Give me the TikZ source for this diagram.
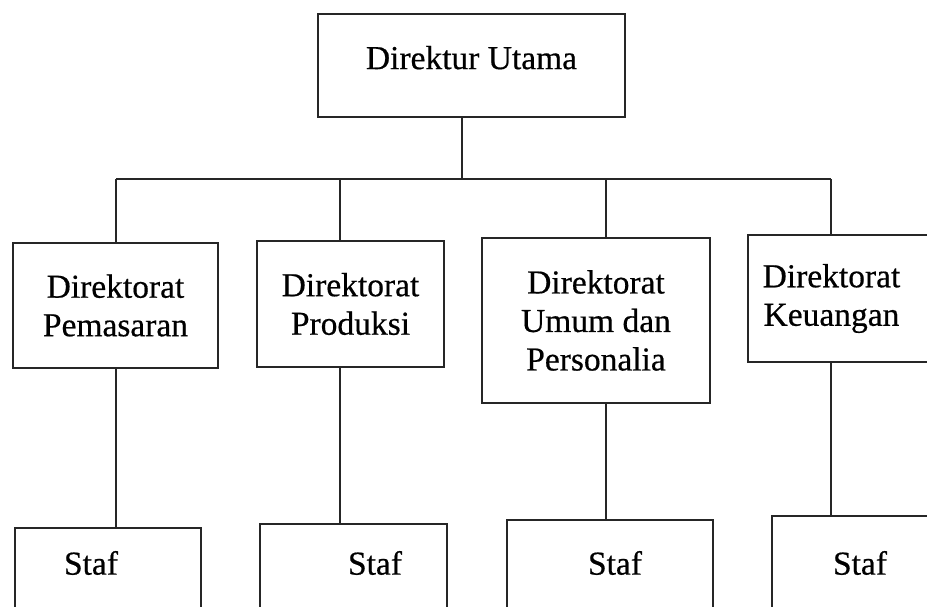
\documentclass[tikz,border=0pt]{standalone}
\usepackage{fontspec}
\setmainfont{Liberation Serif}[FakeBold=0.5]
\begin{document}
\begin{tikzpicture}[x=1pt,y=-1pt,
  box/.style={draw=black!85, line width=1.9pt, rectangle, inner sep=0pt, align=center,
    font=\fontsize{33.5}{38.5}\selectfont},
  txt/.style={inner sep=0pt, font=\fontsize{33.5}{38.5}\selectfont},
  conn/.style={draw=black!85, line width=1.9pt}]
\useasboundingbox (0,0) rectangle (927,607);
\clip (0,0) rectangle (927,607);
% top
\node[box, minimum width=307pt, minimum height=103pt, text depth=16pt] (top) at (471.5,65.5) {Direktur Utama};
% directorates
\node[box, minimum width=205pt, minimum height=125pt] (d1) at (115.5,305.5) {Direktorat\\Pemasaran};
\node[box, minimum width=187pt, minimum height=126pt] (d2) at (350.5,304) {Direktorat\\Produksi};
\node[box, minimum width=228pt, minimum height=165pt] (d3) at (596,320.5) {Direktorat\\Umum dan\\Personalia};
\node[box, minimum width=187pt, minimum height=127pt] (d4) at (841.5,298.5) {\hspace*{-20pt}Direktorat\\\hspace*{-20pt}Keuangan};
% staff boxes
\node[box, minimum width=186pt, minimum height=92pt] (s1box) at (108,574) {};
\node[box, minimum width=187pt, minimum height=96pt] (s2box) at (353.5,572) {};
\node[box, minimum width=206pt, minimum height=100pt] (s3box) at (610,570) {};
\node[box, minimum width=168pt, minimum height=104pt] (s4box) at (856,568) {};
\node[txt] (s1) at (91,563) {Staf};
\node[txt] (s2) at (375,563) {Staf};
\node[txt] (s3) at (615,563) {Staf};
\node[txt] (s4) at (860,563) {Staf};
% bus
\coordinate (t) at (462,179);
\coordinate (c1) at (116,179);
\coordinate (c2) at (340,179);
\coordinate (c3) at (606,179);
\coordinate (c4) at (831,179);
\draw[conn] (top.south -| t) -- (t);
\draw[conn] (c1) -- (c4);
\draw[conn] (c1) -- (c1 |- d1.north);
\draw[conn] (c2) -- (c2 |- d2.north);
\draw[conn] (c3) -- (c3 |- d3.north);
\draw[conn] (c4) -- (c4 |- d4.north);
\draw[conn] (d1.south -| c1) -- (c1 |- s1box.north);
\draw[conn] (d2.south -| c2) -- (c2 |- s2box.north);
\draw[conn] (d3.south -| c3) -- (c3 |- s3box.north);
\draw[conn] (d4.south -| c4) -- (c4 |- s4box.north);
\end{tikzpicture}
\end{document}
